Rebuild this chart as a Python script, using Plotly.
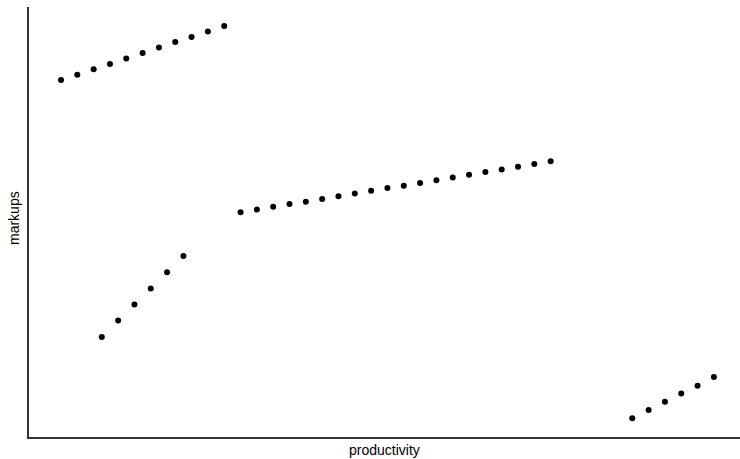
import plotly.graph_objects as go

# Four segments of (productivity, markup) observations
prod_a = [0, 1, 2, 3, 4, 5, 6, 7, 8, 9, 10]
mark_a = [8.62, 8.76, 8.90, 9.03, 9.17, 9.31, 9.45, 9.59, 9.72, 9.86, 10.00]

prod_b = [11, 12, 13, 14, 15, 16, 17, 18, 19, 20,
          21, 22, 23, 24, 25, 26, 27, 28, 29, 30]
mark_b = [5.25, 5.32, 5.39, 5.46, 5.52, 5.59, 5.66, 5.73, 5.80, 5.87,
          5.93, 6.00, 6.07, 6.14, 6.21, 6.28, 6.34, 6.41, 6.48, 6.55]

prod_c = [2.5, 3.5, 4.5, 5.5, 6.5, 7.5]
mark_c = [2.07, 2.49, 2.90, 3.31, 3.72, 4.14]

prod_d = [35, 36, 37, 38, 39, 40]
mark_d = [0.00, 0.21, 0.42, 0.63, 0.83, 1.05]

fig = go.Figure()
for xs, ys in [(prod_a, mark_a), (prod_b, mark_b), (prod_c, mark_c), (prod_d, mark_d)]:
    fig.add_trace(go.Scatter(
        x=xs, y=ys, mode="markers",
        marker=dict(color="black", size=6, line=dict(width=0)),
        showlegend=False, hoverinfo="skip",
    ))

axis_common = dict(
    showgrid=False, zeroline=False, showticklabels=False, ticks="",
    showline=True, linecolor="#333333", linewidth=2,
)

fig.update_layout(
    width=740, height=459,
    margin=dict(l=29, r=0, t=7, b=22),
    paper_bgcolor="white", plot_bgcolor="white",
    font=dict(family="Liberation Sans, Arial, sans-serif", size=14, color="black"),
    xaxis=dict(range=[-1.96, 41.6], **axis_common),
    yaxis=dict(range=[-0.477, 10.484], **axis_common),
    annotations=[
        dict(text="productivity", xref="paper", yref="paper", x=0.5, y=0,
             xanchor="center", yanchor="top", yshift=-3, showarrow=False,
             font=dict(size=14)),
        dict(text="markups", xref="paper", yref="paper", x=0, y=0.5,
             xanchor="center", yanchor="middle", xshift=-15, yshift=4,
             textangle=-90, showarrow=False, font=dict(size=14)),
    ],
)

fig.write_html("out.html")
